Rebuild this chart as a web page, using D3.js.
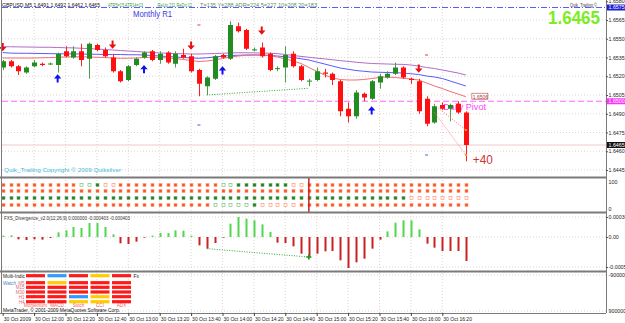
<!DOCTYPE html>
<html>
<head>
<meta charset="utf-8">
<script src="https://cdn.jsdelivr.net/npm/d3@7/dist/d3.min.js"></script>
<style>
body { margin: 0; background: #fff; }
svg { display: block; font-family: "Liberation Sans", Arial, sans-serif; }
</style>
</head>
<body>
<div id="chart"></div>
<script>
const W = 625, H = 323;

// GBPUSD,M5 candles, 30 Oct 2009 11:40 .. 16:35
const open = [1.6527,1.6532,1.6528,1.6523,1.6528,1.6530,1.6530,1.6529,1.6540,1.6535,
  1.6540,1.6534,1.6545,1.6541,1.6535,1.6524,1.6517,1.6529,1.6535,1.6540,
  1.6533,1.6539,1.6530,1.6537,1.6536,1.6525,1.6512,1.6518,1.6537,1.6534,
  1.6560,1.6557,1.6541,1.6543,1.6538,1.6526,1.6527,1.6538,1.6528,1.6516,
  1.6517,1.6523,1.6522,1.6516,1.6494,1.6488,1.6506,1.6502,1.6515,1.6519,
  1.6522,1.6527,1.6518,1.6516,1.6502,1.6483,1.6497,1.6494,1.6498,1.6491];
const high = [1.6533,1.6533,1.6529,1.6528,1.6533,1.6531,1.6531,1.6539,1.6544,1.6544,
  1.6546,1.6547,1.6546,1.6543,1.6538,1.6525,1.6529,1.6535,1.6540,1.6541,
  1.6540,1.6540,1.6540,1.6542,1.6538,1.6526,1.6520,1.6537,1.6538,1.6564,
  1.6563,1.6558,1.6543,1.6547,1.6539,1.6528,1.6544,1.6540,1.6529,1.6518,
  1.6527,1.6526,1.6523,1.6517,1.6499,1.6509,1.6507,1.6517,1.6522,1.6524,
  1.6531,1.6528,1.6519,1.6518,1.6504,1.6498,1.6499,1.6498,1.6500,1.6492];
const low = [1.6525,1.6527,1.6521,1.6522,1.6527,1.6528,1.6529,1.6523,1.6535,1.6534,
  1.6528,1.6518,1.6540,1.6535,1.6523,1.6515,1.6516,1.6528,1.6534,1.6532,
  1.6530,1.6530,1.6527,1.6534,1.6523,1.6504,1.6505,1.6517,1.6534,1.6533,
  1.6555,1.6541,1.6540,1.6535,1.6524,1.6524,1.6515,1.6527,1.6516,1.6512,
  1.6516,1.6519,1.6513,1.6488,1.6483,1.6486,1.6500,1.6501,1.6510,1.6518,
  1.6521,1.6518,1.6514,1.6490,1.6480,1.6482,1.6493,1.6484,1.6490,1.6452];
const close = [1.6532,1.6528,1.6524,1.6527,1.6531,1.6529,1.65302,1.6538,1.6536,1.6540,
  1.6533,1.6546,1.6541,1.6536,1.6524,1.6516,1.6528,1.6534,1.6539,1.6533,
  1.6538,1.6531,1.6538,1.6535,1.6524,1.6514,1.6519,1.6536,1.6535,1.6561,
  1.6556,1.6542,1.65415,1.6536,1.6525,1.65265,1.6537,1.6528,1.6517,1.65165,
  1.6524,1.6522,1.6517,1.6492,1.6488,1.6507,1.6503,1.6516,1.6520,1.6522,
  1.6527,1.6519,1.6517,1.6492,1.6482,1.6496,1.6494,1.6497,1.6491,1.6465];

const maSlow = [1.65436,1.65436,1.65435,1.65434,1.65433,1.65432,1.65432,1.6543,1.65428,1.65427,
  1.65424,1.65421,1.65418,1.65414,1.6541,1.65406,1.65402,1.65398,1.65394,1.6539,
  1.65386,1.65384,1.65381,1.6538,1.65378,1.65378,1.6538,1.65382,1.65384,1.65387,
  1.65388,1.65388,1.65387,1.65386,1.65384,1.65381,1.65374,1.65366,1.65359,1.65352,
  1.65345,1.65339,1.65332,1.65325,1.65319,1.65312,1.65307,1.65302,1.653,1.65298,
  1.65296,1.65295,1.6529,1.65282,1.6527,1.65262,1.6525,1.65238,1.65226,1.6521];
const maMid = [1.6539,1.65385,1.65384,1.65384,1.65383,1.65382,1.65381,1.6538,1.65379,1.65379,
  1.65378,1.65376,1.65376,1.65374,1.65374,1.65374,1.65372,1.65372,1.6537,1.65366,
  1.65362,1.65358,1.65354,1.6535,1.65346,1.65344,1.65348,1.65354,1.6536,1.65366,
  1.65368,1.6537,1.6537,1.6537,1.65366,1.65362,1.65356,1.6535,1.6534,1.6533,
  1.65314,1.65298,1.65282,1.65266,1.65256,1.65246,1.6524,1.65234,1.65232,1.6523,
  1.65228,1.65226,1.6522,1.65214,1.65202,1.65194,1.65182,1.65162,1.65142,1.65122];
const maFast = [1.65346,1.65346,1.65346,1.65346,1.65346,1.65348,1.65349,1.65352,1.65354,1.65356,
  1.65356,1.65354,1.65352,1.6535,1.65346,1.65344,1.65344,1.65346,1.6535,1.65352,
  1.6535,1.65346,1.65342,1.65334,1.65326,1.65318,1.65322,1.6533,1.65342,1.65354,
  1.65362,1.65368,1.6537,1.6537,1.65366,1.65354,1.65338,1.65322,1.65302,1.6527,
  1.6524,1.6521,1.65186,1.65174,1.6517,1.6517,1.65174,1.65182,1.6519,1.65194,
  1.6519,1.65184,1.65178,1.6517,1.65146,1.65122,1.65102,1.65078,1.65058,1.65036];

const upArrowBars = [7, 18, 28, 47];
const upArrowPrices = [1.65186, 1.6526, 1.6525, 1.6493];
const downArrowBars = [0, 14, 24, 33, 53];
const downArrowPrices = [1.6543, 1.6545, 1.65442, 1.65562, 1.65258];

const highMarkBars = [25, 54];
const highMarkPrices = [1.6561, 1.6537];
const lowMarkBars = [25, 54];
const lowMarkPrices = [1.6481, 1.6457];

const monthlyR1 = 1.6575;
const dailyPivot = 1.6500;
const bid = 1.6465;
const maFastLast = '1.6506';

const priceDivBars = [26, 39];
const priceDivPrices = [1.6505, 1.65104];
const trailBars = [55, 59];
const trailUpper = [1.6497, 1.6477];
const trailLower = [1.6491, 1.6457];

const priceTicks = [1.6580, 1.6565, 1.6550, 1.6535, 1.6520, 1.6505, 1.6490, 1.6475, 1.6460, 1.6445];

// 4 rows of state squares: O orange, o hollow orange, G green, g hollow green
const dotRows = [
  'OOOOOOOOOOggGooOOOOOOOOOOOOOggGGGGGGGooOOOOOOOOOOOOOOOOOOOOO',
  'OOOOOOOOOOOOOOOOOOOOOOOOOOOOOOOOOOOOOOOOOOOOOOOOOOOOOOOOOOOO',
  'GGGGGGGGGGGGGGGGGGGGGGGGGGGGGGGGGGGGGGGGGGGGGGGGGGGGoooooooo',
  'OOOOOOOOOOOOOOOOOOOOOOOOOOOgggggGoooooOOOOOOOOOOOOOOOOOOOOOO'
];
const dotMarkBar = 39;

const divergence = [0.000024,0.00003,-0.000042,-0.000054,-0.000042,-0.000048,-0.000018,0.000084,0.00012,0.00018,
  0.000162,0.000252,0.000252,0.00018,0.000048,-0.000114,-0.000126,-0.000084,-0.000012,0.000024,
  0.000072,0.000072,0.00012,0.000114,0.000024,-0.00015,-0.00021,-0.000108,-0.000012,0.00024,
  0.00036,0.00033,0.0003,0.000228,0.00009,-0.000102,-0.000108,-0.000168,-0.0003,-0.000372,
  -0.0003,-0.000258,-0.000252,-0.00042,-0.000558,-0.000456,-0.00039,-0.00021,-0.000048,0.000102,
  0.000258,0.0003,0.0003,0.000138,-0.00012,-0.000192,-0.000252,-0.000252,-0.000252,-0.000432];
const histDivBars = [26, 39];
const histDivValues = [-0.00021, -0.00036];
const histTicks = [0.00036, 0, -0.00054];
const histTickLabels = ['0.00036', '0.00', '-0.00054'];

const tableCols = ['Momentum', 'MACD', 'Stoch', 'CCI', 'ADX'];
const tableRowNames = ['', 'M5', 'M15', 'M30', 'H1', 'H4'];
const tableColors = [
  ['red', 'blue', 'red', 'yellow', 'red'],
  ['red', 'yellow', 'red', 'red', 'red'],
  ['red', 'red', 'red', 'red', 'red'],
  ['red', 'red', 'red', 'red', 'red'],
  ['red', 'red', 'blue', 'yellow', 'red'],
  ['red', 'red', 'yellow', 'yellow', 'red']
];

const timeBars = [0, 4, 8, 12, 16, 20, 24, 28, 32, 36, 40, 44, 48, 52, 56];
const timeLabels = ['30 Oct 2009', '30 Oct 12:00', '30 Oct 12:20', '30 Oct 12:40', '30 Oct 13:00',
  '30 Oct 13:20', '30 Oct 13:40', '30 Oct 14:00', '30 Oct 14:20', '30 Oct 14:40', '30 Oct 15:00',
  '30 Oct 15:20', '30 Oct 15:40', '30 Oct 16:00', '30 Oct 16:20'];

const svg = d3.select('#chart').append('svg')
  .attr('width', W)
  .attr('height', H);

const left = 2, right = 606;
const mainBottom = 177, dotTop = 178, dotBottom = 212, histTop = 213, histBottom = 271, axisY = 313;

const x = d3.scaleLinear().domain([0, 59]).range([2.7, 465.85]);
const y = d3.scaleLinear().domain([1.6445, 1.6565]).range([170, 20]);
const yh = d3.scaleLinear().domain([-0.00054, 0.00036]).range([267, 217]);
const yd = d3.scalePoint().domain(d3.range(4)).range([184.7, 204.7]);

const colorOf = { red: '#ff1a1a', blue: '#3399ff', yellow: '#ffcc00' };

// grid
const grid = svg.append('g')
  .attr('stroke', '#dcc6c6')
  .attr('stroke-width', 0.8)
  .attr('stroke-dasharray', '1,2');

grid.selectAll('.v').data(timeBars.slice(1)).join('line')
  .attr('x1', d => x(d)).attr('x2', d => x(d))
  .attr('y1', 0).attr('y2', axisY);

grid.selectAll('.h').data(priceTicks.slice(1)).join('line')
  .attr('x1', left).attr('x2', right)
  .attr('y1', d => y(d)).attr('y2', d => y(d));

grid.selectAll('.hh').data(histTicks).join('line')
  .attr('x1', left).attr('x2', right)
  .attr('y1', d => yh(d)).attr('y2', d => yh(d));

grid.selectAll('.hb').data([275, 311]).join('line')
  .attr('x1', left).attr('x2', right)
  .attr('y1', d => d).attr('y2', d => d);

const main = svg.append('g');

// bid line
main.append('line')
  .attr('x1', left).attr('x2', right)
  .attr('y1', y(bid)).attr('y2', y(bid))
  .attr('stroke', '#f0c8c8');

// monthly R1
main.append('line')
  .attr('x1', left).attr('x2', right)
  .attr('y1', y(monthlyR1)).attr('y2', y(monthlyR1))
  .attr('stroke', '#5a5aff')
  .attr('stroke-dasharray', '6,2,1,2');

main.append('text')
  .attr('x', 133).attr('y', 17)
  .attr('font-size', 9)
  .attr('textLength', 39)
  .attr('lengthAdjust', 'spacingAndGlyphs')
  .attr('fill', '#3a3ae0')
  .text('Monthly R1');

// daily pivot
main.append('line')
  .attr('x1', left).attr('x2', right)
  .attr('y1', y(dailyPivot)).attr('y2', y(dailyPivot))
  .attr('stroke', '#ff66ff')
  .attr('stroke-width', 1.2)
  .attr('stroke-dasharray', '6,3');

main.append('text')
  .attr('x', 443).attr('y', y(dailyPivot) + 8.5)
  .attr('font-size', 9)
  .attr('textLength', 43)
  .attr('lengthAdjust', 'spacingAndGlyphs')
  .attr('fill', '#ff44ff')
  .text('Daily Pivot');

// moving averages
const maLine = d3.line().x((d, i) => x(i)).y(d => y(d));
[[maSlow, '#b36bcc'], [maMid, '#5a5aff'], [maFast, '#f07070']].forEach(([data, col]) => {
  main.append('path')
    .datum(data)
    .attr('d', maLine)
    .attr('fill', 'none')
    .attr('stroke', col)
    .attr('stroke-width', 1);
});

// price divergence line
main.append('line')
  .attr('x1', x(priceDivBars[0])).attr('x2', x(priceDivBars[1]))
  .attr('y1', y(priceDivPrices[0])).attr('y2', y(priceDivPrices[1]))
  .attr('stroke', '#33aa33')
  .attr('stroke-dasharray', '1,1.5');

// candles
const candles = d3.range(open.length).map(i => ({ i, o: open[i], h: high[i], l: low[i], c: close[i] }));
const candleColor = d => d.c >= d.o ? '#228b22' : '#ff1010';

main.append('g').selectAll('line').data(candles).join('line')
  .attr('x1', d => Math.round(x(d.i)) + 0.5)
  .attr('x2', d => Math.round(x(d.i)) + 0.5)
  .attr('y1', d => y(d.h))
  .attr('y2', d => y(d.l))
  .attr('stroke', d => d.c >= d.o ? '#4aa04a' : '#ff2020');

main.append('g').selectAll('rect').data(candles).join('rect')
  .attr('x', d => Math.round(x(d.i)) - 2)
  .attr('width', 5)
  .attr('y', d => y(Math.max(d.o, d.c)))
  .attr('height', d => Math.max(1, Math.abs(y(d.o) - y(d.c))))
  .attr('fill', candleColor);

// arrows
const downArrow = (cx, cy) => `M${cx - 1},${cy - 4.5}h2v4h2.7l-3.7,4.2l-3.7,-4.2h2.7z`;
const upArrow = (cx, cy) => `M${cx - 1},${cy + 4.5}h2v-4h2.7l-3.7,-4.2l-3.7,4.2h2.7z`;

main.append('g').selectAll('path').data(downArrowBars).join('path')
  .attr('d', (d, k) => downArrow(x(d), y(downArrowPrices[k])))
  .attr('fill', '#e81010');

main.append('g').selectAll('path').data(upArrowBars).join('path')
  .attr('d', (d, k) => upArrow(x(d), y(upArrowPrices[k])))
  .attr('fill', '#1010f0');

// small high / low marks
main.append('g').selectAll('line').data(highMarkBars).join('line')
  .attr('x1', d => x(d) - 1.5).attr('x2', d => x(d) + 1.5)
  .attr('y1', (d, k) => y(highMarkPrices[k])).attr('y2', (d, k) => y(highMarkPrices[k]))
  .attr('stroke', '#ee3333');

main.append('g').selectAll('line').data(lowMarkBars).join('line')
  .attr('x1', d => x(d) - 1.5).attr('x2', d => x(d) + 1.5)
  .attr('y1', (d, k) => y(lowMarkPrices[k])).attr('y2', (d, k) => y(lowMarkPrices[k]))
  .attr('stroke', '#5555ee');

// trailing lines
[trailUpper, trailLower].forEach(p => {
  main.append('line')
    .attr('x1', x(trailBars[0])).attr('x2', x(trailBars[1]))
    .attr('y1', y(p[0])).attr('y2', y(p[1]))
    .attr('stroke', '#ff7070')
    .attr('stroke-dasharray', '1,1.5');
  main.append('rect')
    .attr('x', x(trailBars[1]) - 1).attr('y', y(p[1]) - 1)
    .attr('width', 2).attr('height', 2)
    .attr('fill', '#ff9933');
});

main.append('text')
  .attr('x', x(59) + 7).attr('y', y(1.6450))
  .attr('font-size', 13)
  .attr('textLength', 20)
  .attr('lengthAdjust', 'spacingAndGlyphs')
  .attr('fill', '#cc3333')
  .text('+40');

// fast MA end label
main.append('rect')
  .attr('x', x(59) + 6).attr('y', y(maFast[59]) - 3.5)
  .attr('width', 16).attr('height', 6)
  .attr('fill', '#fff')
  .attr('stroke', '#c06060')
  .attr('stroke-width', 0.7);
main.append('text')
  .attr('x', x(59) + 7).attr('y', y(maFast[59]) + 1.8)
  .attr('font-size', 5)
  .attr('fill', '#a04040')
  .text(maFastLast);

// header texts
main.append('text')
  .attr('x', 2).attr('y', 6.5)
  .attr('font-size', 5.5)
  .attr('textLength', 98)
  .attr('lengthAdjust', 'spacingAndGlyphs')
  .attr('fill', '#111')
  .text('GBPUSD,M5  1.6491 1.6492 1.6462 1.6465');

[['ATR5=15  ATR14=13', 108, 35, '#33a033'], ['ReUp:211  ReDn:11', 157.5, 34.5, '#33a033'],
 ['T=135  Y=288  ADR=224  5=227  10=208  20=183', 200, 117, '#5c8f5c']].forEach(([t, tx, tl, col]) => {
  main.append('text')
    .attr('x', tx).attr('y', 6.5)
    .attr('font-size', 5.5)
    .attr('textLength', tl)
    .attr('lengthAdjust', 'spacingAndGlyphs')
    .attr('fill', col)
    .text(t);
});

main.append('text')
  .attr('x', 570).attr('y', 7)
  .attr('font-size', 5)
  .attr('textLength', 27)
  .attr('lengthAdjust', 'spacingAndGlyphs')
  .attr('fill', '#444')
  .text('Quik_Trailing ©');

main.append('text')
  .attr('x', 600).attr('y', 23.5)
  .attr('text-anchor', 'end')
  .attr('font-size', 18)
  .attr('font-weight', 'bold')
  .attr('textLength', 52)
  .attr('lengthAdjust', 'spacingAndGlyphs')
  .attr('fill', '#7ced1e')
  .text(d3.format('.4f')(close[59]));

main.append('text')
  .attr('x', 4).attr('y', 171.5)
  .attr('font-size', 5.5)
  .attr('textLength', 117)
  .attr('lengthAdjust', 'spacingAndGlyphs')
  .attr('fill', '#44bbdd')
  .text('Quik_Trailing    Copyright © 2009    Quiksilver');

// state squares
const dots = svg.append('g');
dotRows.forEach((row, r) => {
  dots.append('g').selectAll('rect').data(row.split('')).join('rect')
    .attr('x', (d, i) => Math.round(x(i)) - 1)
    .attr('y', Math.round(yd(r)) - 1.5)
    .attr('width', 3).attr('height', 3)
    .attr('fill', d => d === 'O' ? '#ff4f1a' : d === 'G' ? '#1e7d1e' : '#fff')
    .attr('stroke', d => d === 'O' ? '#ffa080' : d === 'G' ? '#70b070' : d === 'o' ? '#ff8866' : '#66bb66')
    .attr('stroke-width', 0.6);
});
dots.append('line')
  .attr('x1', x(dotMarkBar)).attr('x2', x(dotMarkBar))
  .attr('y1', dotTop).attr('y2', dotBottom)
  .attr('stroke', '#c82020')
  .attr('stroke-width', 1.5);

// divergence histogram
const hist = svg.append('g');
hist.selectAll('rect').data(divergence).join('rect')
  .attr('x', (d, i) => Math.round(x(i)) - 0.5)
  .attr('width', 2)
  .attr('y', d => yh(Math.max(0, d)))
  .attr('height', d => Math.abs(yh(d) - yh(0)))
  .attr('fill', d => d >= 0 ? '#4fd84f' : '#c82222');

hist.append('line')
  .attr('x1', x(histDivBars[0])).attr('x2', x(histDivBars[1]))
  .attr('y1', yh(histDivValues[0])).attr('y2', yh(histDivValues[1]))
  .attr('stroke', '#33aa33')
  .attr('stroke-dasharray', '1,1.5');
hist.append('path')
  .attr('d', d3.symbol(d3.symbolCross, 14)())
  .attr('transform', `translate(${x(histDivBars[1])},${yh(histDivValues[1])})`)
  .attr('fill', '#229922');

hist.append('text')
  .attr('x', 4).attr('y', 220)
  .attr('font-size', 5)
  .attr('textLength', 126)
  .attr('lengthAdjust', 'spacingAndGlyphs')
  .attr('fill', '#333')
  .text('FXS_Divergence_v2.0(12,26,9) 0.000000 -0.000403 -0.000403');

// multi indicator table
const table = svg.append('g');
const rowY = [275.7, 282.7, 287.3, 292, 296.7, 301.7];
tableColors.forEach((row, r) => {
  table.append('g').selectAll('rect').data(row).join('rect')
    .attr('x', (d, k) => 26 + k * 21.5)
    .attr('y', rowY[r] - 1.6)
    .attr('width', 19)
    .attr('height', 3.2)
    .attr('fill', d => colorOf[d]);
});
table.selectAll('.rn').data(tableRowNames).join('text')
  .attr('x', 24.5).attr('y', (d, r) => rowY[r] + 1.8)
  .attr('text-anchor', 'end')
  .attr('font-size', 4.5)
  .attr('fill', '#dd6677')
  .text(d => d);
table.append('text').attr('x', 3).attr('y', 277.5).attr('font-size', 5).attr('fill', '#222')
  .attr('textLength', 22).attr('lengthAdjust', 'spacingAndGlyphs').text('Multi-Indic');
table.append('text').attr('x', 133.5).attr('y', 277.5).attr('font-size', 5).attr('fill', '#222').text('Fx');
table.append('text').attr('x', 3).attr('y', 284.5).attr('font-size', 5).attr('fill', '#4a7fd0')
  .attr('textLength', 13).attr('lengthAdjust', 'spacingAndGlyphs').text('Watch');
table.selectAll('.cn').data(tableCols).join('text')
  .attr('x', (d, k) => 35.5 + k * 21.5).attr('y', 306.8)
  .attr('text-anchor', 'middle')
  .attr('font-size', 4.6)
  .attr('fill', '#ff5555')
  .text(d => d);
table.append('text')
  .attr('x', 3).attr('y', 312.3)
  .attr('font-size', 4.8)
  .attr('textLength', 117)
  .attr('lengthAdjust', 'spacingAndGlyphs')
  .attr('fill', '#111')
  .text('MetaTrader, © 2001-2009 MetaQuotes Software Corp.');

// panel frames
const frame = svg.append('g').attr('stroke', '#7a7a7a');
frame.selectAll('.sep').data([mainBottom, dotBottom, histBottom]).join('line')
  .attr('x1', 0).attr('x2', right)
  .attr('y1', d => d + 0.5).attr('y2', d => d + 0.5)
  .attr('stroke-width', 2);
frame.append('line').attr('x1', 0).attr('x2', right).attr('y1', axisY + 0.5).attr('y2', axisY + 0.5);
frame.append('line').attr('x1', 1.5).attr('x2', 1.5).attr('y1', 0).attr('y2', axisY);
frame.append('line').attr('x1', right + 0.5).attr('x2', right + 0.5).attr('y1', 0).attr('y2', axisY);

// right axes
const styleAxis = g => {
  g.select('.domain').remove();
  g.selectAll('.tick line').attr('stroke', '#555');
  g.selectAll('.tick text')
    .attr('font-family', '"Liberation Sans", Arial, sans-serif')
    .attr('font-size', 5.3)
    .attr('fill', '#222')
    .attr('x', 2.5);
};

svg.append('g')
  .attr('transform', `translate(${right},0)`)
  .call(d3.axisRight(y).tickValues(priceTicks).tickSize(2).tickFormat(d3.format('.4f')))
  .call(styleAxis);

svg.append('g')
  .attr('transform', `translate(${right},0)`)
  .call(d3.axisRight(yh).tickValues(histTicks).tickSize(2).tickFormat((d, k) => histTickLabels[k]))
  .call(styleAxis);

const sideLabels = [['100', 182], ['0', 209], ['-900000', 275], ['900000', 311]];
svg.append('g').selectAll('text').data(sideLabels).join('text')
  .attr('x', right + 2.5).attr('y', d => d[1] + 1.8)
  .attr('font-size', 5.3)
  .attr('fill', '#222')
  .text(d => d[0]);

const boxes = [[monthlyR1, '#1f1fd0'], [dailyPivot, '#ff33ff'], [bid, '#111']];
boxes.forEach(([p, col]) => {
  svg.append('rect')
    .attr('x', right + 1).attr('y', y(p) - 3)
    .attr('width', 19).attr('height', 6)
    .attr('fill', col);
  svg.append('text')
    .attr('x', right + 2.5).attr('y', y(p) + 1.9)
    .attr('font-size', 5.3)
    .attr('fill', '#fff')
    .text(d3.format('.4f')(p));
});

// time axis
const tAxis = svg.append('g')
  .attr('transform', `translate(0,${axisY})`)
  .call(d3.axisBottom(x).tickValues(timeBars).tickSize(3).tickFormat((d, k) => timeLabels[k]));
tAxis.select('.domain').remove();
tAxis.selectAll('.tick line').attr('stroke', '#444');
tAxis.selectAll('.tick text')
  .attr('font-family', '"Liberation Sans", Arial, sans-serif')
  .attr('font-size', 5)
  .attr('fill', '#222')
  .attr('text-anchor', 'start')
  .attr('x', 0.5)
  .attr('y', 4)
  .attr('dy', '0.71em');
</script>
</body>
</html>
